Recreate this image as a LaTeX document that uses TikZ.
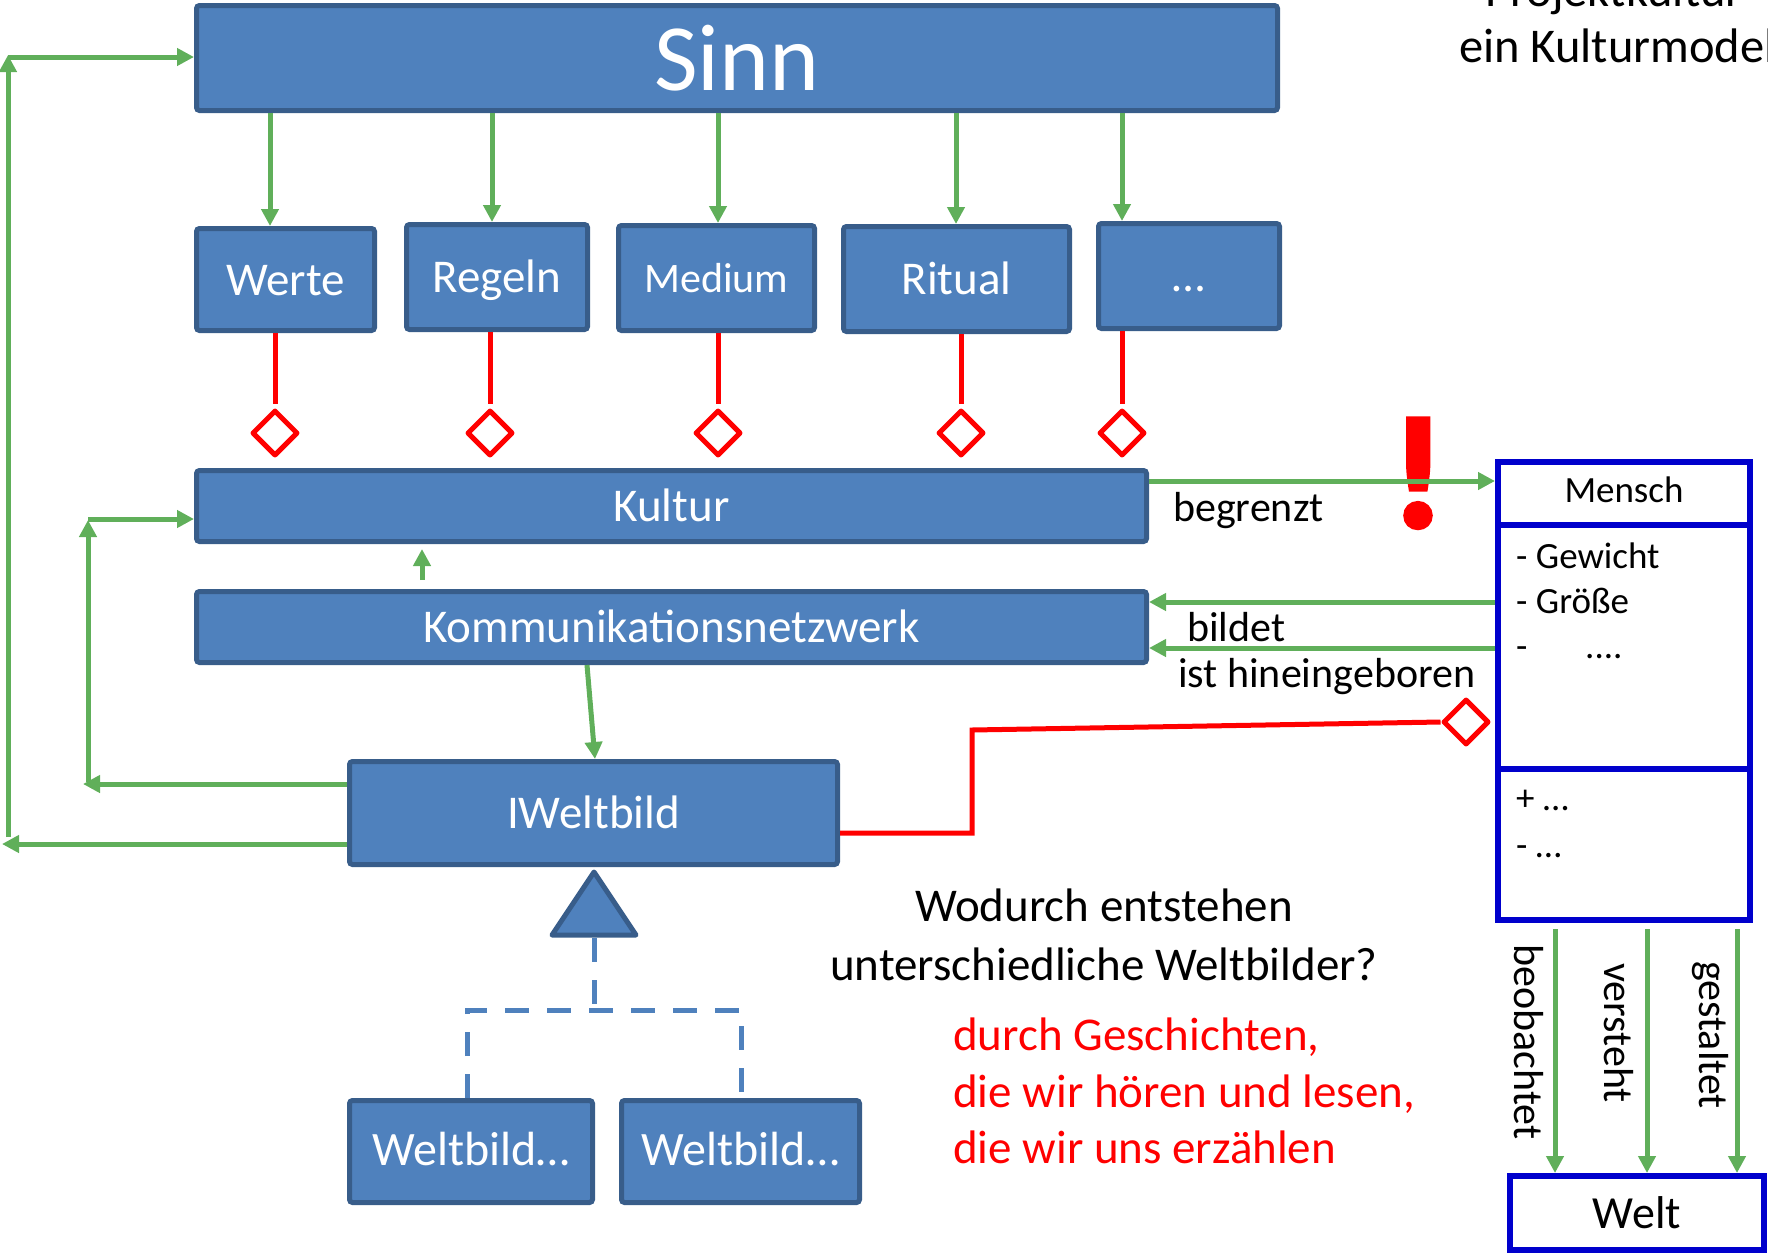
\documentclass[tikz,border=0pt]{standalone}
\usepackage{fontspec}
\setmainfont{Carlito}
\newfontfamily\bangfont[BoldFeatures={FakeBold=4}]{Carlito}
\usetikzlibrary{arrows.meta,shapes.geometric}
\definecolor{boxfill}{RGB}{79,129,189}
\definecolor{boxline}{RGB}{56,93,138}
\definecolor{relgreen}{RGB}{96,175,90}
\definecolor{umlblue}{RGB}{0,0,204}
\newcommand{\pxfont}[1]{\fontsize{#1}{#1}\selectfont}
\begin{document}
\begin{tikzpicture}[x=1pt,y=-1pt,
  blk/.style={draw=boxline, fill=boxfill, line width=5pt, rounded corners=3pt,
    text=white, inner sep=0pt, font=\pxfont{47}, text height=31pt, text depth=0pt},
  garr/.style={draw=relgreen, line width=5pt, -{Triangle[length=17pt,width=17pt]}},
  redline/.style={draw=red, line width=5pt},
  agg/.style={diamond, draw=red, fill=white, line width=5pt, line join=round,
    minimum width=46pt, minimum height=46pt, inner sep=0pt},
  umlbox/.style={draw=umlblue, line width=6pt, fill=white, inner sep=0pt},
  dashline/.style={draw=boxfill, line width=5pt, dash pattern=on 24pt off 18pt},
  lbl/.style={text=black, inner sep=0pt, font=\pxfont{42}},
  attr/.style={text=black, inner sep=0pt, font=\pxfont{37}, anchor=base west},
  note/.style={inner sep=0pt, font=\pxfont{47}},
]
\useasboundingbox (0,0) rectangle (1768,1253);
\clip (0,0) rectangle (1768,1253);

% title
\node[inner sep=0pt, font=\pxfont{48.5}, anchor=base] (title1) at (1614,6) {Projektkultur};
\node[inner sep=0pt, font=\pxfont{48.5}, anchor=base] (title2) at (1623,62) {ein Kulturmodell};

% blue class boxes
\node[blk, minimum width=1081pt, minimum height=105pt, font=\pxfont{95}, text height=64pt] (sinn) at (737,58) {Sinn};
\node[blk, minimum width=178pt, minimum height=102pt] (werte)  at (285.5,279.5) {Werte};
\node[blk, minimum width=181pt, minimum height=105pt] (regeln) at (497,277) {Regeln};
\node[blk, minimum width=196pt, minimum height=105pt, font=\pxfont{42}, text height=28pt] (medium) at (716.5,278) {Medium};
\node[blk, minimum width=226pt, minimum height=105pt] (ritual) at (956.5,279) {Ritual};
\node[blk, minimum width=181pt, minimum height=105pt] (mehr)   at (1189,276) {…};
\node[blk, minimum width=950pt, minimum height=71pt] (kultur) at (671.5,506) {Kultur};
\node[blk, minimum width=950pt, minimum height=71pt] (komm)   at (671.5,627) {Kommunikationsnetzwerk};
\node[blk, minimum width=488pt, minimum height=103pt] (iwelt)  at (593.5,813) {IWeltbild};
\node[blk, minimum width=243pt, minimum height=102pt, font=\pxfont{48}, text height=28pt] (wb1) at (471,1151.5) {Weltbild…};
\node[blk, minimum width=238pt, minimum height=102pt, font=\pxfont{48}, text height=28pt] (wb2) at (740.5,1151.5) {Weltbild…};

% Sinn -> elements
\coordinate (g1) at (270,0);
\coordinate (g2) at (492,0);
\coordinate (g3) at (718,0);
\coordinate (g4) at (956,0);
\coordinate (g5) at (1122,0);
\draw[garr] (sinn.south -| g1) -- (werte.north -| g1);
\draw[garr] (sinn.south -| g2) -- (regeln.north -| g2);
\draw[garr] (sinn.south -| g3) -- (medium.north -| g3);
\draw[garr] (sinn.south -| g4) -- (ritual.north -| g4);
\draw[garr] (sinn.south -| g5) -- (mehr.north -| g5);

% aggregation of the elements in Kultur
\node[agg] (d1) at (275,433) {};
\node[agg] (d2) at (490,433) {};
\node[agg] (d3) at (718,433) {};
\node[agg] (d4) at (961,433) {};
\node[agg] (d5) at (1122,433) {};
\draw[redline, shorten >=4pt] (werte.south -| d1) -- (d1.north);
\draw[redline, shorten >=4pt] (regeln.south -| d2) -- (d2.north);
\draw[redline, shorten >=4pt] (medium.south -| d3) -- (d3.north);
\draw[redline, shorten >=4pt] (ritual.south -| d4) -- (d4.north);
\draw[redline, shorten >=4pt] (mehr.south -| d5) -- (d5.north);

% Kommunikationsnetzwerk -> Kultur, Kommunikationsnetzwerk -> IWeltbild
\coordinate (ka) at (422,580);
\coordinate (kb) at (422,549);
\draw[garr] (ka) -- (kb);
\coordinate (kw1) at (587,0);
\coordinate (kw2) at (595,0);
\draw[garr] (komm.south -| kw1) -- (iwelt.north -| kw2);

% feedback loops on the left
\coordinate (li1) at (83,784);
\coordinate (li2) at (88,782);
\coordinate (li3) at (88,520);
\coordinate (li4) at (88,519);
\draw[garr] ([yshift=29pt]iwelt.west) -- (li1);
\draw[garr] (li2) -- (li3);
\draw[garr] (li4) -- ([yshift=-13pt]kultur.west);
\coordinate (lo1) at (2,844);
\coordinate (lo2) at (8,837);
\coordinate (lo3) at (8,55);
\coordinate (lo4) at (8,57);
\draw[garr] ([yshift=-31pt]iwelt.west) -- (lo1);
\draw[garr] (lo2) -- (lo3);
\draw[garr] (lo4) -- ([yshift=1pt]sinn.west);

% generalization
\path[draw=boxline, fill=boxfill, line width=5pt, line join=round]
  (594,872) -- (636,935) -- (552,935) -- cycle;
\coordinate (tb) at (594,938);
\coordinate (jn) at (594,1010);
\coordinate (ja) at (467,1010);
\coordinate (jb) at (741,1010);
\draw[dashline] (tb) -- (jn);
\draw[dashline] (wb1.north -| ja) -- (ja) -- (jb) -- (wb2.north -| jb);

% Mensch class
\node[umlbox, minimum width=252pt, minimum height=458pt] (mensch) at (1624,691) {};
\coordinate (s1) at (0,525);
\coordinate (s2) at (0,769);
\draw[umlblue, line width=6pt] (mensch.west |- s1) -- (mensch.east |- s1);
\draw[umlblue, line width=6pt] (mensch.west |- s2) -- (mensch.east |- s2);
\node[attr, anchor=base] (mname) at (1624,502) {Mensch};
\node[attr] (ma1) at (1516,568) {- Gewicht};
\node[attr] (ma2) at (1516,613) {- Größe};
\node[attr] (ma3) at (1516,658) {-};
\node[attr] (ma3b) at (1585,658) {....};
\node[attr] (mo1) at (1516,810) {+ …};
\node[attr] (mo2) at (1516,857) {- …};

\node[umlbox, minimum width=254pt, minimum height=74pt, font=\pxfont{46}] (welt) at (1637,1213) {Welt};

% Kultur -> Mensch
\node[text=red, inner sep=0pt, font=\bangfont\bfseries\pxfont{156}, anchor=base] (warn) at (1418,526) {!};
\coordinate (ya) at (0,481);
\draw[garr] (kultur.east |- ya) -- (mensch.west |- ya);
\node[lbl, anchor=base west] (lbeg) at (1173,521) {begrenzt};

% Mensch -> Kommunikationsnetzwerk
\coordinate (yb) at (0,602);
\coordinate (yc) at (0,648);
\draw[garr] (mensch.west |- yb) -- (komm.east |- yb);
\draw[garr] (mensch.west |- yc) -- (komm.east |- yc);
\node[lbl, anchor=base west] (lbild) at (1187,641) {bildet};
\node[lbl, anchor=base west] (lgeb) at (1178,687) {ist hineingeboren};

% IWeltbild part of Mensch
\node[agg] (dm) at (1466,722) {};
\coordinate (r1) at (972,833);
\coordinate (r2) at (972,730);
\draw[redline] (iwelt.east |- r1) -- (r1) -- (r2) -- (dm.west);

% Mensch -> Welt
\coordinate (w1) at (1555,0);
\coordinate (w2) at (1647,0);
\coordinate (w3) at (1737,0);
\draw[garr, shorten <=6pt] (mensch.south -| w1) -- (welt.north -| w1);
\draw[garr, shorten <=6pt] (mensch.south -| w2) -- (welt.north -| w2);
\draw[garr, shorten <=6pt] (mensch.south -| w3) -- (welt.north -| w3);
\node[lbl, rotate=-90] (lbeo) at (1529,1042) {beobachtet};
\node[lbl, rotate=-90] (lver) at (1619,1033) {versteht};
\node[lbl, rotate=-90] (lges) at (1710,1035) {gestaltet};

% question and answer
\node[note, anchor=base] (q1) at (1104,921) {Wodurch entstehen};
\node[note, anchor=base] (q2) at (1104,980) {unterschiedliche Weltbilder?};
\node[note, text=red, anchor=base west] (a1) at (953,1050) {durch Geschichten,};
\node[note, text=red, anchor=base west] (a2) at (953,1107) {die wir hören und lesen,};
\node[note, text=red, anchor=base west] (a3) at (953,1163) {die wir uns erzählen};
\end{tikzpicture}
\end{document}
